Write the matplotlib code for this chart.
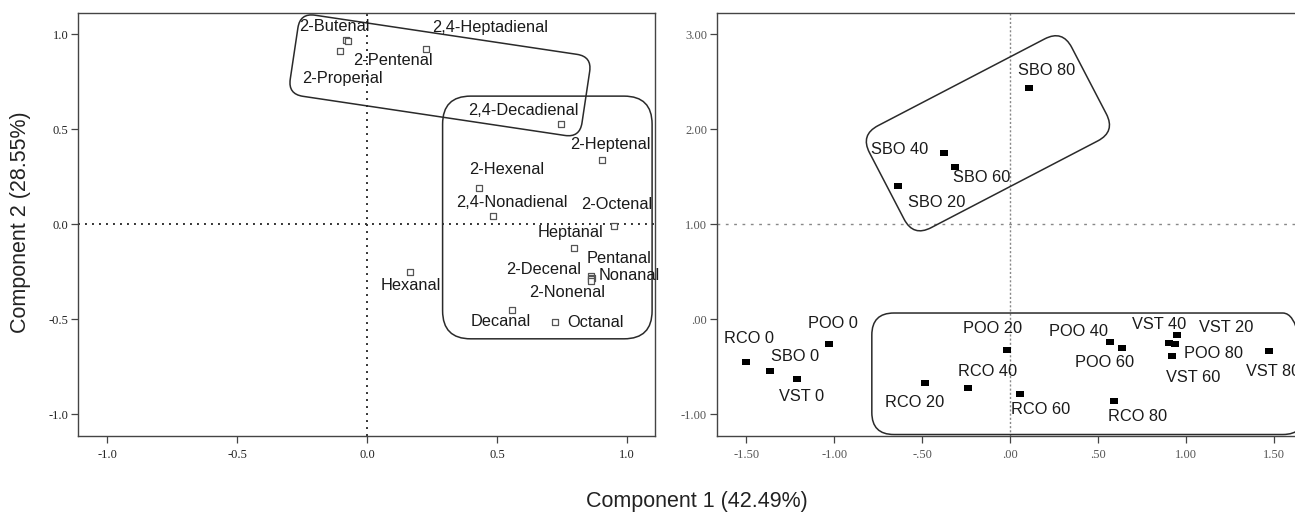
import matplotlib
matplotlib.use("Agg")
import matplotlib.pyplot as plt
from matplotlib.patches import FancyBboxPatch
from matplotlib.transforms import Affine2D, ScaledTranslation
from matplotlib.path import Path

# ---------------- data ----------------
# Left panel: loadings of aldehydes
left_names = ["2-Butenal", "2-Pentenal", "2-Propenal", "2,4-Heptadienal", "2,4-Decadienal",
              "2-Heptenal", "2-Hexenal", "2,4-Nonadienal", "2-Octenal", "Heptanal",
              "Pentanal", "Nonanal", "2-Decenal", "2-Nonenal", "Hexanal", "Decanal", "Octanal"]
left_x = [-0.082, -0.075, -0.104, 0.227, 0.745, 0.904, 0.432, 0.485, 0.950, 0.795,
          0.862, 0.865, 0.860, 0.862, 0.165, 0.556, 0.723]
left_y = [0.972, 0.967, 0.912, 0.921, 0.526, 0.337, 0.191, 0.044, -0.011, -0.126,
          -0.270, -0.280, -0.288, -0.296, -0.249, -0.449, -0.516]

# Right panel: scores of oil samples
right_names = ["RCO 0", "SBO 0", "VST 0", "POO 0", "RCO 20", "RCO 40", "POO 20", "RCO 60",
               "RCO 80", "POO 40", "POO 60", "VST 40", "VST 20", "POO 80", "VST 60", "VST 80",
               "SBO 80", "SBO 40", "SBO 60", "SBO 20"]
right_x = [-1.502, -1.368, -1.210, -1.032, -0.487, -0.240, -0.017, 0.054,
           0.589, 0.565, 0.634, 0.905, 0.950, 0.937, 0.920, 1.472,
           0.105, -0.378, -0.315, -0.637]
right_y = [-0.449, -0.544, -0.628, -0.256, -0.674, -0.719, -0.326, -0.789,
           -0.856, -0.239, -0.302, -0.246, -0.168, -0.260, -0.386, -0.337,
           2.439, 1.751, 1.600, 1.407]

left_xticks = [-1.0, -0.5, 0.0, 0.5, 1.0]
left_xticklabels = ["-1.0", "-0.5", "0.0", "0.5", "1.0"]
left_yticks = [-1.0, -0.5, 0.0, 0.5, 1.0]
left_yticklabels = ["-1.0", "-0.5", "0.0", "0.5", "1.0"]
right_xticks = [-1.5, -1.0, -0.5, 0.0, 0.5, 1.0, 1.5]
right_xticklabels = ["-1.50", "-1.00", "-.50", ".00", ".50", "1.00", "1.50"]
right_yticks = [-1.0, 0.0, 1.0, 2.0, 3.0]
right_yticklabels = ["-1.00", ".00", "1.00", "2.00", "3.00"]

xlabel = "Component 1 (42.49%)"
ylabel = "Component 2 (28.55%)"

# ---------------- layout (label offsets in pixels, y up) ----------------
left_label_offsets = [(-11, 13), (45, -20), (2.5, -27.6), (63.7, 21.7), (-37.4, 14),
                      (8.5, 16), (26.8, 18.7), (18.7, 13.4), (2.3, 22), (-3.7, 15.3),
                      (27.3, 16.7), (37, 2), (-46.7, 9.7), (-24.3, -11.7), (0.5, -13.7),
                      (-11.4, -11.4), (40.8, 0)]
right_label_offsets = [(2.5, 23.7), (25.1, 14.4), (4.5, -17.6), (4.4, 20.3), (-9.7, -19.3),
                       (19.2, 16.6), (-14.5, 21.3), (20.7, -15.7), (23.6, -16), (-30.8, 10.4),
                       (-17.5, -14.3), (-9.9, 18.3), (48.6, 7.7), (38.4, -9.3), (21.4, -21.6),
                       (4.3, -20.3), (18.2, 17.3), (-43.8, 3.4), (26.7, -10.3), (38.8, -17)]

W, H = 1295, 513
fig = plt.figure(figsize=(W / 100, H / 100), dpi=100)
fig.patch.set_facecolor("white")

LABEL_FONT = "Liberation Sans"
TICK_FONT = "Liberation Serif"


def px_axes(l, r, t, b):
    return [l / W, 1 - b / H, (r - l) / W, (b - t) / H]


axL = fig.add_axes(px_axes(78, 655, 13, 436))
axR = fig.add_axes(px_axes(716.7, 1305, 13, 436))

axL.set_xlim(-1.112, 1.107)
axL.set_ylim(-1.114, 1.112)
axR.set_xlim(-1.669, 1.676)
axR.set_ylim(-1.228, 3.224)

for ax, tc in ((axL, "#222222"), (axR, "#555555")):
    for s in ax.spines.values():
        s.set_color("#444444")
        s.set_linewidth(1.0)
    ax.spines["right"].set_visible(ax is axL)
    ax.tick_params(direction="out", length=5, width=0.9, color="#444444",
                   labelsize=9, labelcolor=tc, pad=2)

axL.set_xticks(left_xticks)
axL.set_xticklabels(left_xticklabels, fontfamily=TICK_FONT)
axL.set_yticks(left_yticks)
axL.set_yticklabels(left_yticklabels, fontfamily=TICK_FONT)
axR.set_xticks(right_xticks)
axR.set_xticklabels(right_xticklabels, fontfamily=TICK_FONT)
axR.set_yticks(right_yticks)
axR.set_yticklabels(right_yticklabels, fontfamily=TICK_FONT)
axL.tick_params(axis="x", pad=4)
axR.tick_params(axis="x", pad=4)

# reference lines
axL.axvline(0, color="#333333", lw=1.4, ls=(0, (1, 2.6)), zorder=1)
axL.axhline(0, color="#333333", lw=1.4, ls=(0, (1, 2.6)), zorder=1)
axR.axvline(0, color="#888888", lw=1.0, ls=(0, (1.5, 1.5)), zorder=1)
axR.axhline(1.0, color="#888888", lw=1.0, ls=(0, (2, 4)), zorder=1)

# markers
axL.scatter(left_x, left_y, marker="s", s=24, facecolors="white",
            edgecolors="#555555", linewidths=0.9, zorder=3)
rect_marker = Path([(-1, -0.75), (1, -0.75), (1, 0.75), (-1, 0.75), (-1, -0.75)],
                   [Path.MOVETO, Path.LINETO, Path.LINETO, Path.LINETO, Path.CLOSEPOLY])
axR.scatter(right_x, right_y, marker=rect_marker, s=40, c="black", linewidths=0, zorder=3)

for name, x, y, off in zip(left_names, left_x, left_y, left_label_offsets):
    axL.annotate(name, (x, y), xytext=off, textcoords="offset pixels",
                 ha="center", va="center", fontsize=11.8, family=LABEL_FONT,
                 color="#1a1a1a", zorder=4, annotation_clip=False)
for name, x, y, off in zip(right_names, right_x, right_y, right_label_offsets):
    axR.annotate(name, (x, y), xytext=off, textcoords="offset pixels",
                 ha="center", va="center", fontsize=11.8, family=LABEL_FONT,
                 color="#1a1a1a", zorder=4, annotation_clip=False)


# rounded group boxes: centre in data coords, size in pixels, rotation in degrees
def group_box(ax, cx, cy, w_px, h_px, r_px, angle):
    w, h, r = w_px / 100, h_px / 100, r_px / 100
    patch = FancyBboxPatch((-w / 2, -h / 2), w, h,
                           boxstyle=f"round,pad=0,rounding_size={r}",
                           facecolor="none", edgecolor="#2a2a2a", linewidth=1.1,
                           clip_on=False, zorder=2)
    tr = (Affine2D().rotate_deg(angle) + fig.dpi_scale_trans
          + ScaledTranslation(cx, cy, ax.transData))
    patch.set_transform(tr)
    ax.add_patch(patch)


group_box(axL, 0.28, 0.784, 295, 82, 15, -8.5)
group_box(axL, 0.693, 0.036, 209.5, 242.7, 28, 0)
group_box(axR, -0.127, 1.958, 228, 115, 20, 27.5)
group_box(axR, 0.444, -0.573, 433, 121.5, 22, 0)

fig.text(697 / W, 1 - 502 / H, xlabel, ha="center", va="center",
         fontsize=15.5, family=LABEL_FONT, color="#222222")
fig.text(21 / W, 1 - 222 / H, ylabel, ha="center", va="center", rotation=90,
         fontsize=15.5, family=LABEL_FONT, color="#222222")

fig.savefig("out.png", dpi=100, facecolor="white")
